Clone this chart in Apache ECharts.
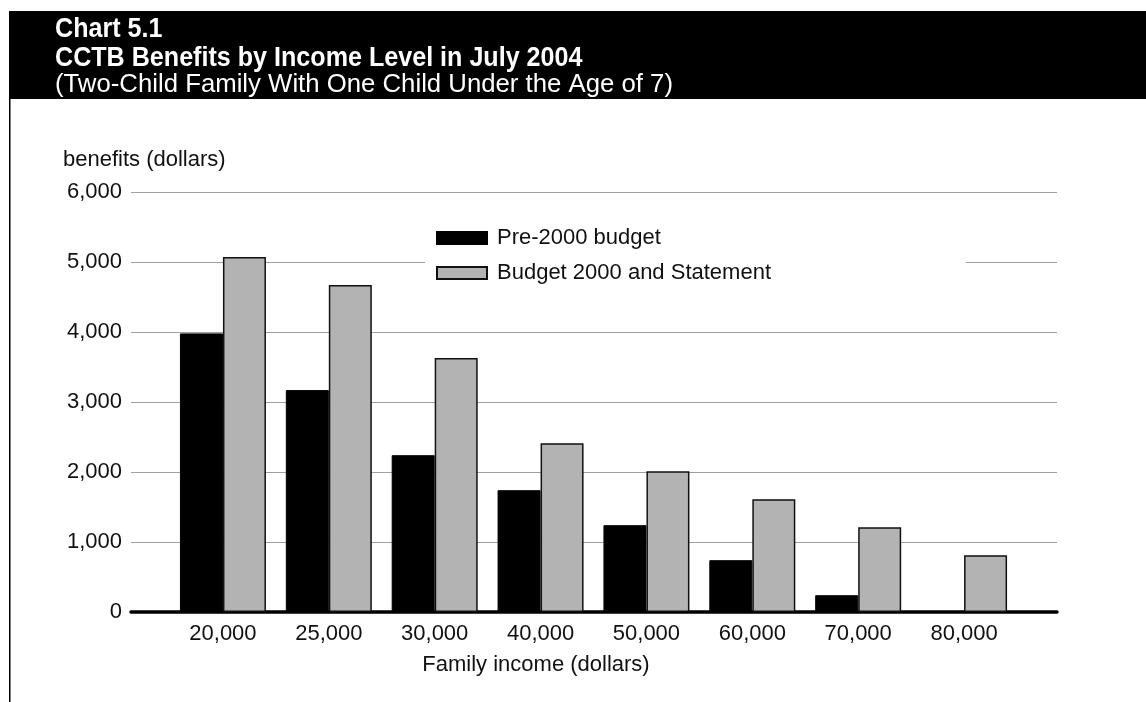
<!DOCTYPE html>
<html>
<head>
<meta charset="utf-8">
<script src="https://cdn.jsdelivr.net/npm/echarts@6/dist/echarts.min.js"></script>
<style>
  html, body { margin: 0; padding: 0; background: #fff; }
  #chart { width: 1146px; height: 702px; }
</style>
</head>
<body>
<div id="chart"></div>
<script>
// income levels (x categories)
const incomes = ["20,000", "25,000", "30,000", "40,000", "50,000", "60,000", "70,000", "80,000"];
// benefits
const pre2000 = [3980, 3170, 2240, 1740, 1240, 740, 240, 0];
const budget2000 = [5070, 4670, 3630, 2410, 2010, 1610, 1210, 810];
const yTicks = [0, 1000, 2000, 3000, 4000, 5000, 6000];

const labelFont = "'Liberation Sans', Arial, Helvetica, sans-serif";
const titleFont = "'Liberation Sans', Arial, sans-serif";

const chart = echarts.init(document.getElementById("chart"), null, { renderer: "canvas" });

const fmt = v => v.toLocaleString("en-US");

// header text, squeezed a little to look like the condensed face
function headText(str, top, font, sx) {
  return {
    type: "text", x: 55, y: top, scaleX: sx,
    style: { text: str, fill: "#fff", font: font }
  };
}

const option = {
  animation: false,
  backgroundColor: "#fff",
  grid: [
    // wide grid: gridlines + thick baseline
    { left: 131, right: 89, top: 192, bottom: 90 },
    // narrow grid: the bars
    { left: 170, right: 129, top: 192, bottom: 90 }
  ],
  xAxis: [
    {
      gridIndex: 0, type: "value", min: 0, max: 1,
      axisLine: { show: true, lineStyle: { color: "#000", width: 3.5 } },
      axisTick: { show: false }, axisLabel: { show: false }, splitLine: { show: false }
    },
    {
      gridIndex: 1, type: "category", data: incomes,
      axisLine: { show: false }, axisTick: { show: false },
      axisLabel: { color: "#111", fontSize: 22, fontFamily: labelFont, margin: 11 }
    }
  ],
  yAxis: [
    {
      gridIndex: 0, type: "value", min: yTicks[0], max: yTicks[yTicks.length - 1], interval: 1000,
      axisLine: { show: false }, axisTick: { show: false },
      axisLabel: { color: "#111", fontSize: 22, fontFamily: labelFont, margin: 9, formatter: fmt },
      splitLine: { show: true, lineStyle: { color: "#a0a0a0", width: 1.2 } }
    },
    {
      gridIndex: 1, type: "value", min: yTicks[0], max: yTicks[yTicks.length - 1], interval: 1000,
      show: false, splitLine: { show: false }
    }
  ],
  legend: {
    orient: "vertical",
    left: 425,
    top: 222,
    padding: [5, 195, 8, 11],
    backgroundColor: "#fff",
    itemWidth: 50,
    itemHeight: 12,
    itemGap: 13,
    icon: "rect",
    selectedMode: false,
    textStyle: { color: "#111", fontSize: 22, fontFamily: labelFont, padding: [0, 0, 0, 5] },
    data: ["Pre-2000 budget", "Budget 2000 and Statement"]
  },
  graphic: [
    { type: "rect", shape: { x: 9, y: 11, width: 1137, height: 88 }, style: { fill: "#000" }, silent: true },
    { type: "line", shape: { x1: 9.75, y1: 99, x2: 9.75, y2: 702 }, style: { stroke: "#000", lineWidth: 1.5 }, silent: true },
    headText("Chart 5.1", 16, "bold 27px " + titleFont, 0.93),
    headText("CCTB Benefits by Income Level in July 2004", 45, "bold 27px " + titleFont, 0.93),
    headText("(Two-Child Family With One Child Under the Age of 7)", 72, "26px " + titleFont, 0.99),
    { type: "text", left: 63, top: 149, style: { text: "benefits (dollars)", fill: "#111", font: "22px " + labelFont } },
    { type: "text", x: 536, y: 654, style: { text: "Family income (dollars)", fill: "#111", font: "22px " + labelFont, textAlign: "center" } }
  ],
  series: [
    {
      name: "Pre-2000 budget", type: "bar", xAxisIndex: 1, yAxisIndex: 1,
      data: pre2000, barWidth: 43, barGap: "0%",
      itemStyle: { color: "#000", borderColor: "#000", borderWidth: 1 }
    },
    {
      name: "Budget 2000 and Statement", type: "bar", xAxisIndex: 1, yAxisIndex: 1,
      data: budget2000, barWidth: 43, barGap: "0%",
      itemStyle: { color: "#b3b3b3", borderColor: "#111", borderWidth: 1.5 }
    }
  ]
};

chart.setOption(option);
</script>
</body>
</html>
